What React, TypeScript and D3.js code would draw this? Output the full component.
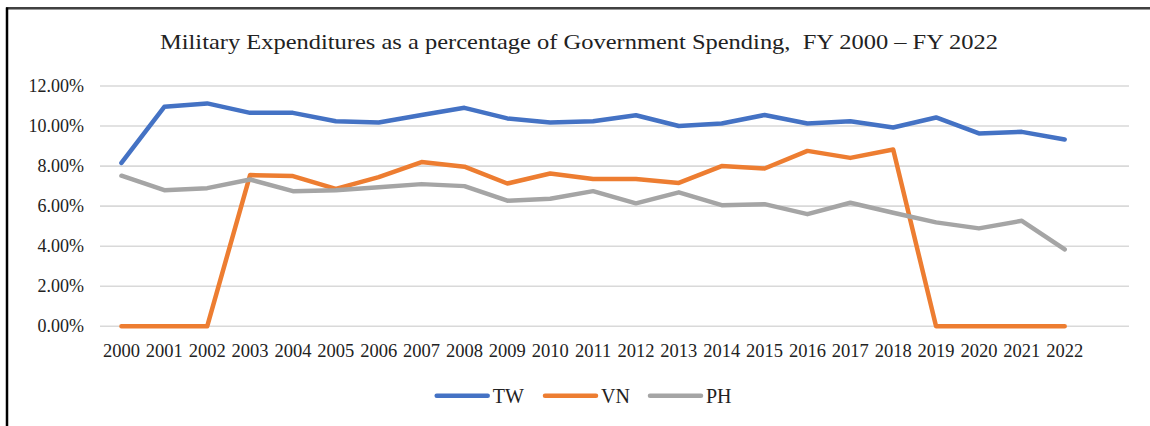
import React from "react";
import * as d3 from "d3";

const years = [
  "2000","2001","2002","2003","2004","2005","2006","2007","2008","2009","2010","2011",
  "2012","2013","2014","2015","2016","2017","2018","2019","2020","2021","2022",
];
const twValues = [8.16,10.96,11.13,10.66,10.66,10.24,10.18,10.55,10.91,10.38,10.18,10.24,10.54,10.0,10.13,10.55,10.13,10.24,9.93,10.43,9.63,9.71,9.33];
const vnValues = [0,0,0,7.55,7.5,6.86,7.45,8.2,7.97,7.13,7.63,7.36,7.36,7.16,8.0,7.88,8.76,8.41,8.83,0,0,0,0];
const phValues = [7.52,6.8,6.9,7.33,6.75,6.8,6.94,7.1,7.0,6.27,6.37,6.75,6.14,6.69,6.05,6.1,5.6,6.17,5.67,5.19,4.89,5.27,3.84];
const yTicks = [0, 2, 4, 6, 8, 10, 12];
const seriesNames = ["TW", "VN", "PH"];
const seriesColors = ["#4472C4", "#ED7D31", "#A5A5A5"];
const title = "Military Expenditures as a percentage of Government Spending,  FY 2000 – FY 2022";

const W = 1150;
const H = 426;
const left = 100;
const right = 1129;
const top = 86;
const bottom = 326.3;
const slots = years.length + 1;
const step = (right - left) / slots;

const font = "Liberation Serif, Times New Roman, serif";

export default function App() {
  const x = d3.scaleBand<string>().domain(years).range([left, left + step * years.length]).padding(0);
  const y = d3.scaleLinear().domain([0, 12]).range([bottom, top]);
  const cx = (yr: string) => (x(yr) as number) + x.bandwidth() / 2;
  const line = d3
    .line<number>()
    .x((_, i) => cx(years[i]))
    .y((d) => y(d));
  const data = [twValues, vnValues, phValues];
  const legendX = [436.7, 545, 650];
  const ts = { fontFamily: font, whiteSpace: "pre" as const };

  return (
    <svg width={W} height={H} style={{ position: "absolute", left: 0, top: 0, background: "#fff" }}>
      <rect x={0} y={0} width={W} height={H} fill="#fff" />
      <line x1={6} x2={W} y1={8} y2={8} stroke="#000" strokeWidth={1.5} />
      <line x1={8} x2={W} y1={9.5} y2={9.5} stroke="#999" strokeWidth={1} />
      <line x1={7} x2={7} y1={7.5} y2={H} stroke="#000" strokeWidth={2.5} />

      <text
        x={160}
        y={49}
        textAnchor="start"
        fontSize={21.5}
        fill="#222"
        style={ts}
        textLength={838}
        lengthAdjust="spacingAndGlyphs"
      >
        {title}
      </text>

      {yTicks.map((t) => (
        <g key={t}>
          <line x1={left} x2={right} y1={y(t)} y2={y(t)} stroke="#D9D9D9" strokeWidth={1.6} />
          <text x={84} y={y(t) + 6} textAnchor="end" fontSize={18} fill="#222" style={ts}>
            {t.toFixed(2) + "%"}
          </text>
        </g>
      ))}

      {years.map((yr) => (
        <text key={yr} x={cx(yr)} y={356.5} textAnchor="middle" fontSize={18.5} fill="#222" style={ts}>
          {yr}
        </text>
      ))}

      {data.map((vals, i) => (
        <path
          key={seriesNames[i]}
          d={line(vals) || ""}
          fill="none"
          stroke={seriesColors[i]}
          strokeWidth={4.5}
          strokeLinejoin="round"
          strokeLinecap="round"
        />
      ))}

      {seriesNames.map((n, i) => (
        <g key={n}>
          <line
            x1={legendX[i]}
            x2={legendX[i] + 51}
            y1={395.7}
            y2={395.7}
            stroke={seriesColors[i]}
            strokeWidth={4.5}
            strokeLinecap="round"
          />
          <text x={legendX[i] + 56} y={403} fontSize={20} fill="#222" style={ts}>
            {n}
          </text>
        </g>
      ))}
    </svg>
  );
}
